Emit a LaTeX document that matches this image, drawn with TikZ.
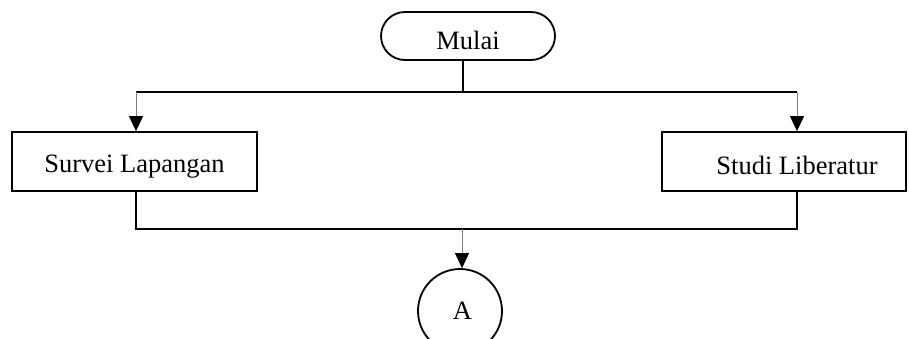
\documentclass[tikz,border=0pt]{standalone}
\usepackage{fontspec}
\setmainfont{Liberation Serif}
\usetikzlibrary{arrows.meta,shapes.misc}
\begin{document}
\begin{tikzpicture}[x=1pt,y=-1pt,
  box/.style={draw,line width=1.8pt,minimum width=245pt,minimum height=59pt,inner sep=0pt,font=\fontsize{26.5}{30}\selectfont},
  term/.style={draw,line width=1.8pt,rounded rectangle,minimum width=174pt,minimum height=48pt,inner sep=0pt,font=\fontsize{26.5}{30}\selectfont},
  conn/.style={draw,line width=1.8pt,circle,minimum size=84pt,inner sep=0pt,font=\fontsize{26.5}{30}\selectfont},
  wire/.style={line width=1.8pt},
  arr/.style={draw=gray,line width=1pt,-{Triangle[length=15pt,width=14pt,black]}}]
\useasboundingbox (0,0) rectangle (909,338);
\clip (0,0) rectangle (909,338);
\node[term,text height=27pt,text depth=0pt] (mulai) at (468,36) {Mulai};
\node[box,text height=21pt,text depth=0pt] (survei) at (134.5,161.5) {Survei Lapangan};
\node[box,minimum width=244pt,text height=25pt,text depth=0pt] (lib) at (784,161.5) {\hspace*{26pt}Studi Liberatur};
\node[conn,text height=16pt,text depth=0pt] (a) at (460,311) {\hspace*{5pt}A};
\coordinate (top) at (463,92);
\coordinate (tl) at (136,92);
\coordinate (tr) at (797,92);
\coordinate (bl) at (136,229);
\coordinate (br) at (797,229);
\coordinate (bm) at (462,229);
\draw[wire] (mulai.south -| top) -- (top);
\draw[wire] (tl) -- (tr);
\draw[arr] (tl) -- (tl |- survei.north);
\draw[arr] (tr) -- (tr |- lib.north);
\draw[wire] (survei.south -| bl) -- (bl) -- (br) -- (lib.south -| br);
\draw[arr] (bm) -- (a.north -| bm);
\end{tikzpicture}
\end{document}
